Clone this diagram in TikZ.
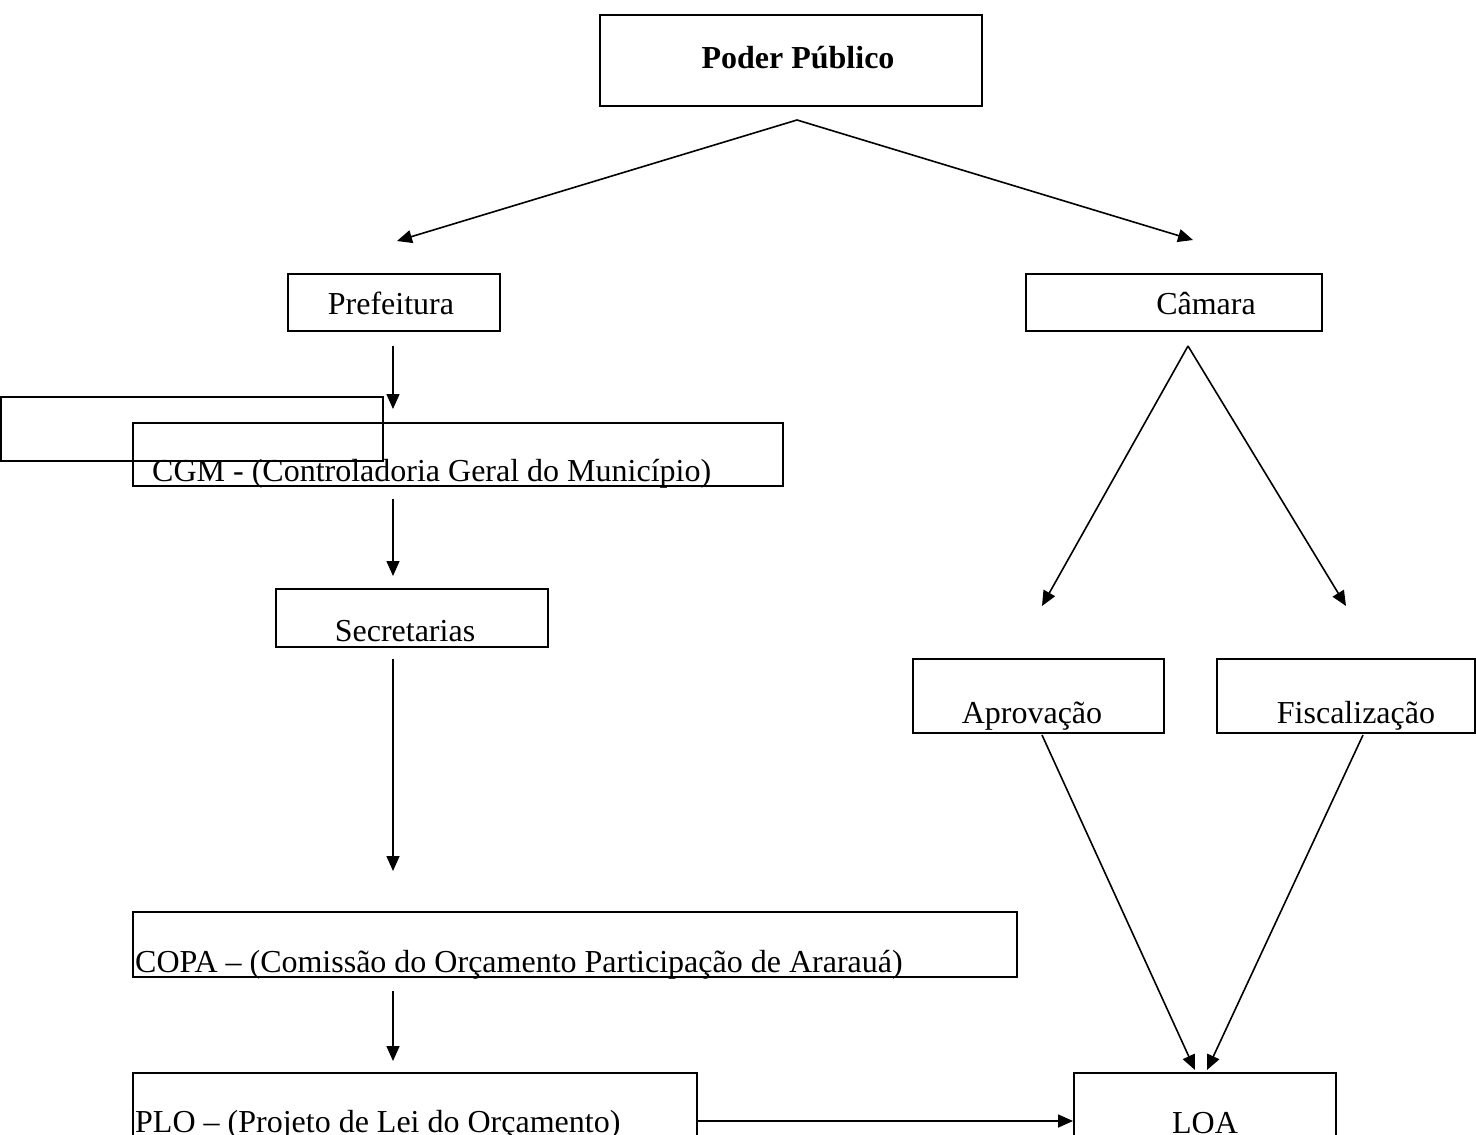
\documentclass[tikz,border=0pt]{standalone}
\usepackage{fontspec}
\setmainfont{Liberation Serif}
\usetikzlibrary{arrows.meta,calc}
\begin{document}
\begin{tikzpicture}[x=1pt,y=-1pt,
  box/.style={draw,line width=2pt,inner sep=0pt,minimum width=#1},
  txt/.style={inner sep=0pt,font=\fontsize{32}{38}\selectfont},
  arr/.style={line width=1.6pt,-{Triangle[length=15pt,width=13pt]}}]
\clip (0,0) rectangle (1476,1135);
\fill[white] (0,0) rectangle (1476,1135);
% boxes
\node[box=382,minimum height=91] (poder) at (791,60.5) {};
\node[box=212,minimum height=57] (pref) at (394,302.5) {};
\node[box=296,minimum height=57] (camara) at (1174,302.5) {};
\node[box=382,minimum height=64] (empty) at (192,429) {};
\node[box=650,minimum height=63] (cgm) at (458,454.5) {};
\node[box=272,minimum height=58] (secr) at (412,618) {};
\node[box=251,minimum height=74] (aprov) at (1038.5,696) {};
\node[box=258,minimum height=74] (fisc) at (1346,696) {};
\node[box=884,minimum height=65] (copa) at (575,944.5) {};
\node[box=564,minimum height=100] (plo) at (415,1123) {};
\node[box=262,minimum height=100] (loa) at (1205,1123) {};
% texts
\node[txt,anchor=base,font=\fontsize{32}{38}\selectfont\bfseries] (tpoder) at (798,68) {Poder Público};
\node[txt,anchor=base] (tpref) at (391,314) {Prefeitura};
\node[txt,anchor=base] (tcam) at (1206,314) {Câmara};
\node[txt,anchor=base west] (tcgm) at (152,481) {CGM - (Controladoria Geral do Município)};
\node[txt,anchor=base] (tsecr) at (405,641) {Secretarias};
\node[txt,anchor=base] (taprov) at (1032,723) {Aprovação};
\node[txt,anchor=base] (tfisc) at (1356,723) {Fiscalização};
\node[txt,anchor=base west] (tcopa) at (135,972) {COPA – (Comissão do Orçamento Participação de Ararauá)};
\node[txt,anchor=base west] (tplo) at (135,1132) {PLO – (Projeto de Lei do Orçamento)};
\node[txt,anchor=base] (tloa) at (1205,1133) {LOA};
% connectors
\draw[arr] ([xshift=6pt,yshift=-13pt]poder.south) -- ([xshift=3pt,yshift=32pt]pref.north);
\draw[arr] ([xshift=6pt,yshift=-13pt]poder.south) -- ([xshift=19pt,yshift=33pt]camara.north);
\draw[arr] ([xshift=-1pt,yshift=-14pt]pref.south) -- ([xshift=-1pt,yshift=13pt]cgm.north -| pref.south);
\draw[arr] ([xshift=-1pt,yshift=-12pt]cgm.south -| pref.south) -- ([xshift=-1pt,yshift=12pt]secr.north -| pref.south);
\draw[arr] ([xshift=-1pt,yshift=-11pt]secr.south -| pref.south) -- ([xshift=-1pt,yshift=40pt]copa.north -| pref.south);
\draw[arr] ([xshift=-1pt,yshift=-13pt]copa.south -| pref.south) -- ([xshift=-1pt,yshift=11pt]plo.north -| pref.south);
\draw[arr] ([yshift=2pt]plo.east) -- ([yshift=2pt]loa.west);
\draw[arr] ([xshift=14pt,yshift=-14pt]camara.south) -- ([xshift=3.5pt,yshift=52pt]aprov.north);
\draw[arr] ([xshift=14pt,yshift=-14pt]camara.south) -- ([yshift=52pt]fisc.north);
\draw[arr] ([xshift=3.5pt,yshift=-1pt]aprov.south) -- ([xshift=-10pt,yshift=2pt]loa.north);
\draw[arr] ([xshift=17pt,yshift=-1pt]fisc.south) -- ([xshift=2pt,yshift=2pt]loa.north);
\end{tikzpicture}
\end{document}
